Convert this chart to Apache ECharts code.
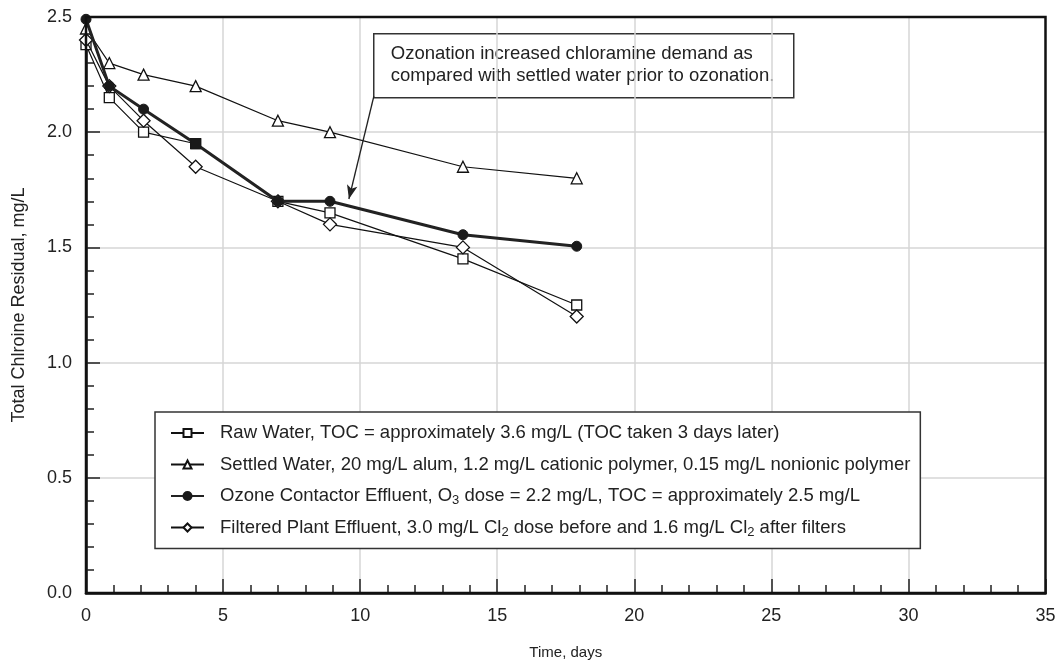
<!DOCTYPE html>
<html>
<head>
<meta charset="utf-8">
<script src="https://cdn.jsdelivr.net/npm/echarts@6/dist/echarts.min.js"></script>
<style>
  html, body { margin: 0; padding: 0; background: #fff; }
  #chart { width: 1056px; height: 666px; }
</style>
</head>
<body>
<div id="chart"></div>
<script>
// ---- data ----
const days = [0, 0.85, 2.1, 4, 7, 8.9, 13.75, 17.9];
const rawWater      = [2.38, 2.15, 2.00, 1.95, 1.70, 1.65, 1.45, 1.25];
const settledWater  = [2.45, 2.30, 2.25, 2.20, 2.05, 2.00, 1.85, 1.80];
const ozoneEffluent = [2.49, 2.20, 2.10, 1.95, 1.70, 1.70, 1.555, 1.505];
const filteredEffl  = [2.40, 2.20, 2.05, 1.85, 1.70, 1.60, 1.50, 1.20];

const seriesNames = [
  'Raw Water, TOC = approximately 3.6 mg/L (TOC taken 3 days later)',
  'Settled Water, 20 mg/L alum, 1.2 mg/L cationic polymer, 0.15 mg/L nonionic polymer',
  'Ozone Contactor Effluent, O3 dose = 2.2 mg/L, TOC = approximately 2.5 mg/L',
  'Filtered Plant Effluent, 3.0 mg/L Cl2 dose before and 1.6 mg/L Cl2 after filters'
];
const annotationLines = [
  'Ozonation increased chloramine demand as',
  'compared with settled water prior to ozonation.'
];
// arrow from annotation box to the ozone curve (data coords)
const arrowFrom = [10.5, 2.156];
const arrowTo = [9.59, 1.71];

const xTicks = { min: 0, max: 35, interval: 5 };
const yTicks = { min: 0, max: 2.5, interval: 0.5 };

// ---- chart ----
const FONT = '"Liberation Sans", Arial, Helvetica, sans-serif';
const TXT = '#222';
const zip = (xs, ys) => xs.map((x, i) => [x, ys[i]]);

const chart = echarts.init(document.getElementById('chart'), null, { renderer: 'canvas' });

const openMarker = { color: '#fff', borderColor: '#111', borderWidth: 1.3 };
const thinLine = { color: '#111', width: 1.2 };

const ozoneData = zip(days, ozoneEffluent).map((p, i) =>
  i === 3 ? { value: p, symbol: 'rect', symbolSize: 10 } : p);

const option = {
  backgroundColor: '#fff',
  animation: false,
  textStyle: { fontFamily: FONT, color: TXT },
  grid: {
    left: 86, top: 17, right: 10.5, bottom: 73,
    containLabel: false, outerBoundsMode: 'none',
    show: true, borderColor: '#111', borderWidth: 2.5, backgroundColor: 'transparent', z: 10
  },
  xAxis: {
    type: 'value', min: xTicks.min, max: xTicks.max, interval: xTicks.interval,
    name: 'Time, days', nameLocation: 'middle', nameGap: 52,
    nameTextStyle: { fontSize: 15, color: TXT, fontFamily: FONT },
    axisLine: { show: true, lineStyle: { color: '#111', width: 2.5 } },
    axisTick: { show: true, inside: true, length: 14, lineStyle: { color: '#222', width: 1.5 } },
    minorTick: { show: true, splitNumber: 5, length: 8, lineStyle: { color: '#222', width: 1.5 } },
    axisLabel: { fontSize: 18, color: TXT, margin: 14, fontFamily: FONT },
    splitLine: { show: true, showMinLine: false, showMaxLine: false, lineStyle: { color: '#d6d6d6', width: 1.5 } }
  },
  yAxis: {
    type: 'value', min: yTicks.min, max: yTicks.max, interval: yTicks.interval,
    name: 'Total Chlroine Residual, mg/L', nameLocation: 'middle', nameGap: 58, nameRotate: 90,
    nameTextStyle: { fontSize: 18, color: TXT, fontFamily: FONT },
    axisLine: { show: true, lineStyle: { color: '#111', width: 2.5 } },
    axisTick: { show: true, inside: true, length: 14, lineStyle: { color: '#222', width: 1.5 } },
    minorTick: { show: true, splitNumber: 5, length: 8, lineStyle: { color: '#222', width: 1.5 } },
    axisLabel: { fontSize: 18, color: TXT, margin: 14, fontFamily: FONT, formatter: v => v.toFixed(1) },
    splitLine: { show: true, showMinLine: false, showMaxLine: false, lineStyle: { color: '#d6d6d6', width: 1.5 } }
  },
  legend: {
    orient: 'vertical', left: 155, top: 412,
    data: seriesNames,
    backgroundColor: '#fff',
    borderColor: '#333', borderWidth: 1.5,
    padding: [10, 10, 10, 15],
    itemGap: 9.5, itemWidth: 33, itemHeight: 10,
    textStyle: {
      fontSize: 18.5, color: TXT, fontFamily: FONT, lineHeight: 22, padding: [0, 0, 0, 11],
      rich: {
        s: { fontSize: 13, lineHeight: 12, verticalAlign: 'bottom', color: TXT, fontFamily: FONT }
      }
    },
    formatter: name => name.replace('O3', 'O{s|3}').replace(/Cl2/g, 'Cl{s|2}')
  },
  series: [
    {
      name: seriesNames[0], type: 'line', data: zip(days, rawWater),
      symbol: 'rect', symbolSize: 10, lineStyle: thinLine, itemStyle: openMarker, z: 3
    },
    {
      name: seriesNames[1], type: 'line', data: zip(days, settledWater),
      symbol: 'triangle', symbolSize: 11, lineStyle: thinLine, itemStyle: openMarker, z: 3
    },
    {
      name: seriesNames[3], type: 'line', data: zip(days, filteredEffl),
      symbol: 'diamond', symbolSize: 13, lineStyle: thinLine, itemStyle: openMarker, z: 4
    },
    {
      name: seriesNames[2], type: 'line', data: ozoneData,
      symbol: 'circle', symbolSize: 10,
      lineStyle: { color: '#222', width: 3 },
      itemStyle: { color: '#1a1a1a', borderColor: '#1a1a1a', borderWidth: 1 }, z: 5,
      markLine: {
        silent: true, symbol: ['none', 'arrow'], symbolSize: [8, 14],
        label: { show: false },
        lineStyle: { color: '#222', width: 1.3, type: 'solid' },
        data: [[{ coord: arrowFrom }, { coord: arrowTo }]]
      }
    }
  ],
  graphic: [
    {
      type: 'group', left: 373, top: 33, z: 100,
      children: [
        { type: 'rect', shape: { x: 0, y: 0, width: 420, height: 64 },
          style: { fill: '#fff', stroke: '#333', lineWidth: 1.5 } },
        { type: 'text', x: 17, y: 9,
          style: { text: annotationLines.join('\n'), font: '18.5px ' + FONT, fill: TXT, lineHeight: 22 } }
      ]
    }
  ]
};
chart.setOption(option);
</script>
</body>
</html>
